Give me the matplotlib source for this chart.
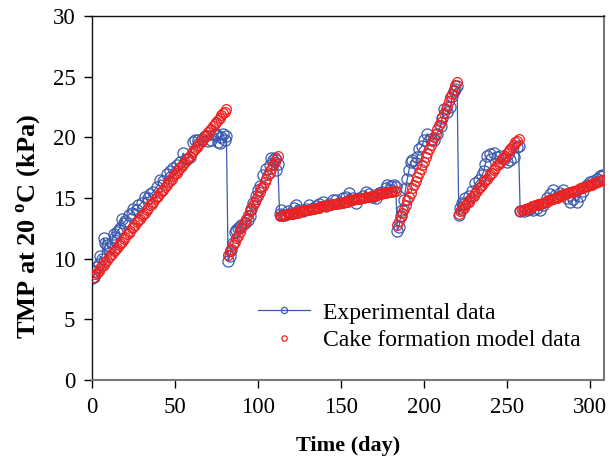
import matplotlib
matplotlib.use("Agg")
import matplotlib.pyplot as plt

plt.rcParams['font.family'] = ['Liberation Serif', 'DejaVu Serif']
plt.rcParams['mathtext.fontset'] = 'custom'
plt.rcParams['mathtext.rm'] = 'Liberation Serif'
plt.rcParams['mathtext.bf'] = 'Liberation Serif:bold'

# ---------------- data ----------------
# Experimental TMP (kPa) vs day
exp_days = [0, 1, 2, 3, 4, 5, 6, 7, 8, 9, 10, 11, 12, 13, 14, 15, 16, 17, 18, 19, 20, 22, 24, 25, 27, 28,
            30, 32, 34, 35, 37, 39, 41, 43, 45, 47, 49, 51, 53, 55, 57, 59, 61, 62, 64, 66, 68, 70, 72, 74,
            75, 76, 77, 78, 79, 80, 81,
            82, 83, 84, 85, 86, 87, 88, 89, 90, 92, 94, 95, 96, 97, 99, 100, 101, 103, 105, 107, 108, 109,
            110, 111, 112,
            113, 114, 115, 116, 118, 120, 122, 123, 125, 127, 129, 131, 133, 135, 137, 139, 141, 143, 145,
            147, 149, 151, 153, 155, 157, 159, 161, 163, 165, 167, 169, 171, 173, 175, 177, 178, 180, 182, 183,
            184, 185, 186, 187, 188, 189, 190, 191, 192, 193, 195, 196, 197, 199, 200, 202, 204, 206, 208,
            210, 211, 212, 214, 216, 217, 218, 219, 220,
            221, 222, 223, 224, 225, 227, 229, 231, 233, 235, 236, 237, 238, 240, 242, 244, 246, 248, 250,
            252, 254, 256, 257,
            258, 260, 262, 264, 266, 268, 270, 272, 274, 276, 278, 280, 282, 284, 286, 288, 290, 292, 294,
            296, 298, 300, 302, 304, 306, 307, 308]
exp_tmp = [8.4, 8.5, 9.0, 9.3, 9.6, 10.2, 10.0, 11.7, 11.3, 11.1, 10.8, 11.0, 11.4, 12.0, 11.8, 12.2, 12.4,
           12.5, 13.3, 12.9, 13.1, 13.6, 13.8, 14.1, 14.0, 14.4, 14.6, 15.1, 15.0, 15.3, 15.5, 15.9, 16.5,
           16.4, 17.0, 17.2, 17.5, 17.7, 18.0, 18.7, 18.2, 18.4, 19.6, 19.8, 19.8, 19.9, 20.1, 19.7, 19.8,
           20.2, 20.3, 19.6, 19.5, 20.0, 20.3, 19.8, 20.1,
           9.8, 10.2, 10.7, 11.3, 12.2, 12.4, 12.5, 12.6, 12.8, 12.9, 13.2, 13.5, 14.1, 14.6, 15.2, 15.7,
           16.0, 16.9, 17.4, 17.7, 18.3, 18.1, 18.3, 17.3, 17.8,
           13.7, 14.0, 13.6, 13.6, 13.9, 13.8, 14.2, 14.4, 14.0, 13.9, 14.1, 14.4, 14.2, 14.3, 14.5, 14.7,
           14.3, 14.5, 14.8, 14.8, 14.6, 15.0, 15.1, 15.4, 15.0, 14.6, 15.0, 15.2, 15.5, 15.3, 15.1, 15.0,
           15.4, 15.5, 15.8, 16.1, 16.0, 16.1, 15.9,
           12.3, 12.6, 13.5, 14.0, 14.8, 15.8, 16.6, 17.3, 18.0, 18.1, 17.9, 18.4, 19.0, 19.3, 19.8, 20.3,
           19.9, 19.8, 20.3, 20.9, 21.6, 22.3, 22.1, 22.5, 23.4, 23.8, 24.0, 24.2,
           13.6, 14.2, 14.6, 14.5, 15.0, 15.2, 15.6, 16.2, 16.5, 16.9, 17.2, 17.8, 18.5, 18.6, 18.7, 18.4,
           18.5, 18.2, 18.0, 18.1, 18.4, 19.2, 19.3,
           13.9, 13.9, 14.0, 14.1, 14.0, 14.2, 14.0, 14.4, 15.0, 15.3, 15.7, 15.1, 15.4, 15.7, 15.0, 14.7,
           14.9, 14.7, 15.2, 15.6, 16.1, 16.3, 16.4, 16.6, 16.8, 16.9, 16.8]

# Cake formation model TMP (kPa), one value per day, in six filtration cycles
model_cycle_start = [1, 82, 113, 184, 221, 258]
model_cycles = [
    [8.5, 8.7, 8.8, 9.0, 9.2, 9.4, 9.5, 9.7, 9.9, 10.1,
     10.2, 10.4, 10.6, 10.7, 10.9, 11.1, 11.3, 11.4, 11.6, 11.8,
     12.0, 12.1, 12.3, 12.5, 12.6, 12.8, 13.0, 13.2, 13.3, 13.5,
     13.7, 13.8, 14.0, 14.2, 14.4, 14.5, 14.7, 14.9, 15.1, 15.2,
     15.4, 15.6, 15.7, 15.9, 16.1, 16.3, 16.4, 16.6, 16.8, 17.0,
     17.1, 17.3, 17.5, 17.6, 17.8, 18.0, 18.2, 18.3, 18.5, 18.7,
     18.9, 19.0, 19.2, 19.4, 19.5, 19.7, 19.9, 20.1, 20.2, 20.4,
     20.6, 20.7, 20.9, 21.1, 21.3, 21.4, 21.6, 21.8, 22.0, 22.1,
     22.3],
    [10.3, 10.6, 10.8, 11.1, 11.4, 11.7, 11.9, 12.2, 12.5, 12.8,
     13.0, 13.3, 13.6, 13.9, 14.1, 14.4, 14.7, 14.9, 15.2, 15.5,
     15.8, 16.0, 16.3, 16.6, 16.9, 17.1, 17.4, 17.7, 18.0, 18.2,
     18.5],
    [13.5, 13.5, 13.6, 13.6, 13.6, 13.7, 13.7, 13.7, 13.7, 13.8,
     13.8, 13.8, 13.9, 13.9, 13.9, 14.0, 14.0, 14.0, 14.0, 14.1,
     14.1, 14.1, 14.2, 14.2, 14.2, 14.3, 14.3, 14.3, 14.3, 14.4,
     14.4, 14.4, 14.5, 14.5, 14.5, 14.6, 14.6, 14.6, 14.6, 14.7,
     14.7, 14.7, 14.8, 14.8, 14.8, 14.9, 14.9, 14.9, 14.9, 15.0,
     15.0, 15.0, 15.1, 15.1, 15.1, 15.2, 15.2, 15.2, 15.2, 15.3,
     15.3, 15.3, 15.4, 15.4, 15.4, 15.5, 15.5, 15.5, 15.5, 15.6,
     15.6],
    [12.8, 13.1, 13.5, 13.8, 14.1, 14.4, 14.8, 15.1, 15.4, 15.8,
     16.1, 16.4, 16.7, 17.1, 17.4, 17.7, 18.0, 18.4, 18.7, 19.0,
     19.4, 19.7, 20.0, 20.3, 20.7, 21.0, 21.3, 21.7, 22.0, 22.3,
     22.6, 23.0, 23.3, 23.6, 23.9, 24.3, 24.6],
    [13.7, 13.9, 14.0, 14.2, 14.4, 14.6, 14.7, 14.9, 15.1, 15.2,
     15.4, 15.6, 15.8, 15.9, 16.1, 16.3, 16.5, 16.6, 16.8, 17.0,
     17.1, 17.3, 17.5, 17.7, 17.8, 18.0, 18.2, 18.3, 18.5, 18.7,
     18.9, 19.0, 19.2, 19.4, 19.6, 19.7, 19.9],
    [13.9, 14.0, 14.0, 14.1, 14.1, 14.2, 14.2, 14.3, 14.3, 14.4,
     14.4, 14.5, 14.5, 14.6, 14.6, 14.7, 14.7, 14.8, 14.8, 14.9,
     14.9, 15.0, 15.0, 15.1, 15.2, 15.2, 15.3, 15.3, 15.4, 15.4,
     15.5, 15.5, 15.6, 15.6, 15.7, 15.7, 15.8, 15.8, 15.9, 15.9,
     16.0, 16.0, 16.1, 16.1, 16.2, 16.2, 16.3, 16.3, 16.4, 16.5,
     16.5],
]

model_days = []
model_tmp = []
for start, vals in zip(model_cycle_start, model_cycles):
    model_days.extend(range(start, start + len(vals)))
    model_tmp.extend(vals)

x_ticks = [0, 50, 100, 150, 200, 250, 300]
y_ticks = [0, 5, 10, 15, 20, 25, 30]

# ---------------- plot ----------------
BLUE = '#3a5aad'
RED = '#f02020'

fig = plt.figure(figsize=(6.16, 4.61), dpi=100)
ax = fig.add_axes([92/616, 1 - 380/461, 512/616, 364/461])

ax.plot(exp_days, exp_tmp, '-', color=BLUE, lw=0.9, marker='o', ms=8.0,
        mfc='none', mec=BLUE, mew=0.9, label='Experimental data', zorder=2)
ax.plot(model_days, model_tmp, 'o', ms=7.0, mfc='none', mec=RED, mew=0.9,
        label='Cake formation model data', zorder=3)

ax.set_xlim(0, 308.5)
ax.set_ylim(0, 30)
ax.set_xticks(x_ticks)
ax.set_yticks(y_ticks)
ax.tick_params(axis='both', direction='out', length=6, width=1, labelsize=16.5,
               top=False, right=False)
ax.tick_params(axis='x', pad=6)
ax.tick_params(axis='y', pad=6)

for s in ['left', 'top']:
    ax.spines[s].set_linewidth(1.0)
    ax.spines[s].set_color('#111111')
ax.spines['bottom'].set_linewidth(1.5)
ax.spines['bottom'].set_color('#777777')
ax.spines['right'].set_linewidth(1.5)
ax.spines['right'].set_color('#777777')

ax.set_xlabel('Time (day)', fontsize=16, fontweight='bold', labelpad=13)
ax.set_ylabel(r'TMP at 20 $^{\mathbf{o}}$C (kPa)', fontsize=19, fontweight='bold')
ax.yaxis.set_label_coords(-0.095, 0.423)

leg = ax.legend(loc='upper left', bbox_to_anchor=(0.324, 0.214), frameon=False,
                fontsize=17, handlelength=2.2, handletextpad=0.55, labelspacing=0.25,
                markerscale=0.55, borderpad=0, borderaxespad=0)

fig.savefig('out.png', dpi=100)
